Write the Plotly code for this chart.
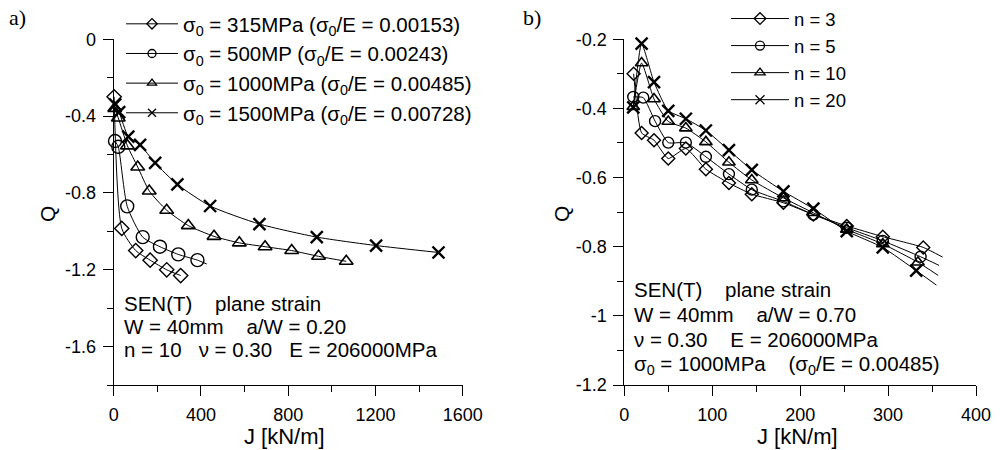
import plotly.graph_objects as go

# ---------------- Panel a) data ----------------
J_a_315 = [2, 37, 101, 167, 243, 307]
Q_a_315 = [-0.30, -0.985, -1.10, -1.15, -1.20, -1.23]
J_a_500 = [6, 21, 62, 133, 212, 296, 384]
Q_a_500 = [-0.53, -0.56, -0.87, -1.03, -1.08, -1.12, -1.15]
J_a_1000 = [5, 21, 63, 110, 163, 243, 342, 460, 576, 694, 816, 939, 1066]
Q_a_1000 = [-0.36, -0.41, -0.555, -0.665, -0.79, -0.89, -0.97, -1.026, -1.06, -1.08, -1.10, -1.13, -1.156]
J_a_1500 = [7, 25, 67, 121, 190, 292, 442, 668, 931, 1203, 1489]
Q_a_1500 = [-0.34, -0.38, -0.507, -0.55, -0.644, -0.756, -0.868, -0.962, -1.03, -1.074, -1.11]
# fitted curve continues a little past the last point
J_a_end = [None, 427, None, None]
Q_a_end = [None, -1.17, None, None]

names_a = ["σ<sub>0</sub> = 315MPa (σ<sub>0</sub>/E = 0.00153)",
           "σ<sub>0</sub> = 500MP (σ<sub>0</sub>/E = 0.00243)",
           "σ<sub>0</sub> = 1000MPa (σ<sub>0</sub>/E = 0.00485)",
           "σ<sub>0</sub> = 1500MPa (σ<sub>0</sub>/E = 0.00728)"]

# ---------------- Panel b) data ----------------
J_b_n3 = [10.6, 19.7, 33.8, 50, 70, 92.8, 119, 145, 181, 215, 253, 294, 340]
Q_b_n3 = [-0.30, -0.471, -0.492, -0.545, -0.516, -0.576, -0.616, -0.648, -0.673, -0.707, -0.74, -0.771, -0.802]
J_b_n5 = [10.2, 21.6, 35, 50, 70, 92.8, 119, 145, 181, 215, 253, 294, 337]
Q_b_n5 = [-0.367, -0.369, -0.437, -0.499, -0.499, -0.54, -0.59, -0.635, -0.669, -0.707, -0.745, -0.783, -0.829]
J_b_n10 = [10.2, 19.7, 33.8, 50, 70, 92.8, 119, 145, 181, 215, 253, 294, 334]
Q_b_n10 = [-0.395, -0.269, -0.373, -0.438, -0.457, -0.497, -0.556, -0.607, -0.659, -0.702, -0.75, -0.792, -0.845]
J_b_n20 = [10.2, 19.7, 33.8, 50, 70, 92.8, 119, 145, 181, 215, 253, 294, 332]
Q_b_n20 = [-0.397, -0.213, -0.324, -0.407, -0.43, -0.464, -0.521, -0.578, -0.64, -0.69, -0.755, -0.802, -0.869]
J_b_end = [362, 358, 357, 355]
Q_b_end = [-0.83, -0.854, -0.883, -0.911]

names_b = ["n = 3", "n = 5", "n = 10", "n = 20"]

# ---------------- ticks ----------------
xa_ticks = [0, 400, 800, 1200, 1600]
xa_minor = [200, 600, 1000, 1400]
ya_ticks = [0, -0.4, -0.8, -1.2, -1.6]
ya_text = ["0", "-0.4", "-0.8", "-1.2", "-1.6"]
ya_minor = [-0.2, -0.6, -1.0, -1.4, -1.8]
xb_ticks = [0, 100, 200, 300, 400]
xb_minor = [50, 150, 250, 350]
yb_ticks = [-0.2, -0.4, -0.6, -0.8, -1.0, -1.2]
yb_text = ["-0.2", "-0.4", "-0.6", "-0.8", "-1", "-1.2"]
yb_minor = [-0.3, -0.5, -0.7, -0.9, -1.1]

FONT = "Liberation Sans, Arial, sans-serif"
symbols = ["diamond-open", "circle-open", "triangle-up-open", "x-thin-open"]
size_a = [11, 13, 12, 12]
size_b = [10, 11, 11, 12]
lw = [1.4, 1.4, 1.6, 2.4]

fig = go.Figure()

series_a = [(J_a_315, Q_a_315), (J_a_500, Q_a_500), (J_a_1000, Q_a_1000), (J_a_1500, Q_a_1500)]
for i, (J, Q) in enumerate(series_a):
    Jl, Ql = list(J), list(Q)
    if J_a_end[i] is not None:
        Jl.append(J_a_end[i]); Ql.append(Q_a_end[i])
    fig.add_trace(go.Scatter(x=Jl, y=Ql, mode="lines", line=dict(color="black", width=1, shape="spline", smoothing=0.6),
                             xaxis="x", yaxis="y", showlegend=False, hoverinfo="skip", cliponaxis=False))
    fig.add_trace(go.Scatter(x=J, y=Q, mode="markers", xaxis="x", yaxis="y", showlegend=False, cliponaxis=False,
                             marker=dict(symbol=symbols[i], size=size_a[i], color="black", line=dict(color="black", width=lw[i]))))
    fig.add_trace(go.Scatter(x=[None], y=[None], mode="lines+markers", name=names_a[i], legend="legend",
                             legendgroup="a%d" % i, xaxis="x", yaxis="y",
                             line=dict(color="black", width=1),
                             marker=dict(symbol=symbols[i], size=8, color="black", line=dict(color="black", width=1.3))))

series_b = [(J_b_n3, Q_b_n3), (J_b_n5, Q_b_n5), (J_b_n10, Q_b_n10), (J_b_n20, Q_b_n20)]
for i, (J, Q) in enumerate(series_b):
    Jl = list(J) + [J_b_end[i]]
    Ql = list(Q) + [Q_b_end[i]]
    fig.add_trace(go.Scatter(x=Jl, y=Ql, mode="lines", line=dict(color="black", width=1, shape="spline", smoothing=0.5),
                             xaxis="x2", yaxis="y2", showlegend=False, hoverinfo="skip", cliponaxis=False))
    fig.add_trace(go.Scatter(x=J, y=Q, mode="markers", xaxis="x2", yaxis="y2", showlegend=False, cliponaxis=False,
                             marker=dict(symbol=symbols[i], size=size_b[i], color="black", line=dict(color="black", width=lw[i]))))
    fig.add_trace(go.Scatter(x=[None], y=[None], mode="lines+markers", name=names_b[i], legend="legend2",
                             legendgroup="b%d" % i, xaxis="x2", yaxis="y2",
                             line=dict(color="black", width=1),
                             marker=dict(symbol=symbols[i], size=9, color="black", line=dict(color="black", width=1.3))))

ydom = [0.1456, 0.9211]
common_axis = dict(showline=True, linecolor="black", linewidth=1, ticks="outside", tickcolor="black",
                   tickwidth=1, ticklen=10, showgrid=False, zeroline=False, automargin=False,
                   ticklabelstandoff=3,
                   tickfont=dict(family=FONT, size=18, color="black"))

fig.update_layout(
    width=1000, height=450, margin=dict(l=0, r=0, t=0, b=0),
    paper_bgcolor="white", plot_bgcolor="white",
    xaxis=dict(domain=[0.1137, 0.4627], range=[0, 1600], anchor="y", tickvals=xa_ticks,
               minor=dict(tickvals=xa_minor, ticks="outside", ticklen=6, tickcolor="black"), **common_axis),
    yaxis=dict(domain=ydom, range=[-1.8, 0], anchor="x", tickvals=ya_ticks, ticktext=ya_text,
               minor=dict(tickvals=ya_minor, ticks="outside", ticklen=6, tickcolor="black"), **common_axis),
    xaxis2=dict(domain=[0.6243, 0.976], range=[0, 400], anchor="y2", tickvals=xb_ticks,
                minor=dict(tickvals=xb_minor, ticks="outside", ticklen=6, tickcolor="black"), **common_axis),
    yaxis2=dict(domain=ydom, range=[-1.2, -0.2], anchor="x2", tickvals=yb_ticks, ticktext=yb_text,
                minor=dict(tickvals=yb_minor, ticks="outside", ticklen=6, tickcolor="black"), **common_axis),
    legend=dict(x=0.121, y=1.0, xanchor="left", yanchor="top", bgcolor="rgba(0,0,0,0)", itemwidth=52,
                tracegroupgap=0, font=dict(family=FONT, size=20.5, color="black")),
    legend2=dict(x=0.726, y=1.009, xanchor="left", yanchor="top", bgcolor="rgba(0,0,0,0)", itemwidth=58,
                 tracegroupgap=0, font=dict(family=FONT, size=18.5, color="black")),
    showlegend=True,
)

ann = []
txt = dict(family=FONT, size=20.5, color="black")
NB = "\u00a0"
# panel labels
ann.append(dict(text="a)", x=17, y=14, showarrow=False,
                font=dict(family="Liberation Serif, Times New Roman, serif", size=22, color="black")))
ann.append(dict(text="b)", x=532, y=14, showarrow=False,
                font=dict(family="Liberation Serif, Times New Roman, serif", size=22, color="black")))
# axis titles
ann.append(dict(text="J [kN/m]", x=284, y=436, showarrow=False, font=dict(family=FONT, size=22, color="black")))
ann.append(dict(text="J [kN/m]", x=797, y=436, showarrow=False, font=dict(family=FONT, size=22, color="black")))
ann.append(dict(text="Q", x=47, y=212, showarrow=False, textangle=-90, font=dict(family=FONT, size=21, color="black")))
ann.append(dict(text="Q", x=561, y=212, showarrow=False, textangle=-90, font=dict(family=FONT, size=21, color="black")))
# info text
left_lines = ["SEN(T)" + NB * 4 + "plane strain",
              "W = 40mm" + NB * 4 + "a/W = 0.20",
              "n = 10" + NB * 3 + "ν = 0.30" + NB * 3 + "E = 206000MPa"]
for k, t in enumerate(left_lines):
    ann.append(dict(text=t, x=122, y=302 + 23.5 * k, xanchor="left", showarrow=False, font=txt))
right_lines = ["SEN(T)" + NB * 4 + "plane strain",
               "W = 40mm" + NB * 4 + "a/W = 0.70",
               "ν = 0.30" + NB * 4 + "E = 206000MPa",
               "σ<sub>0</sub> = 1000MPa" + NB * 4 + "(σ<sub>0</sub>/E = 0.00485)"]
for k, t in enumerate(right_lines):
    ann.append(dict(text=t, x=632, y=288 + 25.5 * k, xanchor="left", showarrow=False, font=txt))

# convert pixel positions to paper coordinates
for a in ann:
    a["xref"] = "paper"; a["yref"] = "paper"
    a["x"] = a["x"] / 1000.0
    a["y"] = 1 - a["y"] / 450.0
    a.setdefault("xanchor", "center")
    a["yanchor"] = "middle"
fig.update_layout(annotations=ann)

fig.write_html("out.html", config={"displayModeBar": False},
               post_script="document.body.style.margin='0px';")
